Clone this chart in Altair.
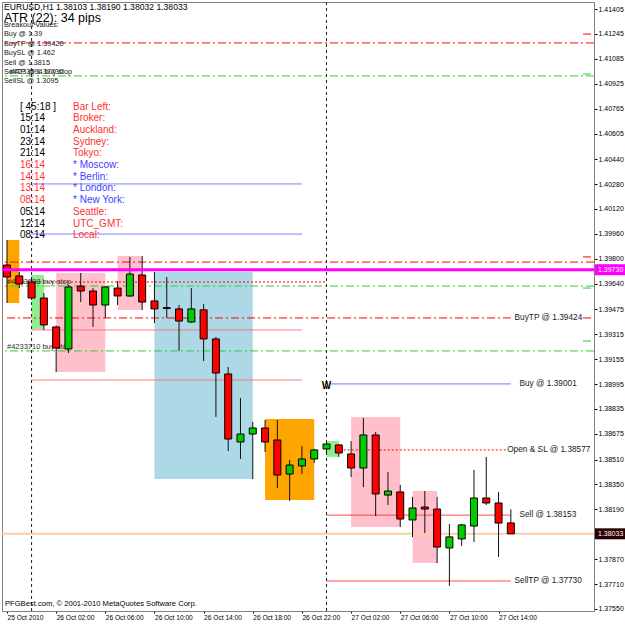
import altair as alt
import pandas as pd

# ---------------- data ----------------
# H1 bars, hours counted from 26 Oct 2010 00:00
bar_hour = [-2, -1, 0, 1, 2, 3, 4, 5, 6, 7, 8, 9, 10, 11, 12, 13, 14, 15, 16, 17, 18, 19,
            20, 21, 22, 23, 24, 25, 26, 27, 28, 29, 30, 31, 32, 33, 34, 35, 36, 37, 38, 39]
bar_open = [1.39760, 1.39690, 1.39651, 1.39548, 1.39362, 1.39221, 1.39625, 1.39593, 1.39503, 1.39612,
            1.39561, 1.39696, 1.39529, 1.39486, 1.39478, 1.39394, 1.39472, 1.39285, 1.39060, 1.38623,
            1.38674, 1.38713, 1.38636, 1.38417, 1.38469, 1.38514, 1.38578, 1.38604, 1.38546, 1.38456,
            1.38668, 1.38282, 1.38302, 1.38122, 1.38205, 1.38192, 1.37942, 1.38000, 1.38083, 1.38263,
            1.38231, 1.38103]
bar_high = [1.39921, 1.39715, 1.39683, 1.39580, 1.39370, 1.39632, 1.39709, 1.39612, 1.39625, 1.39657,
            1.39812, 1.39818, 1.39715, 1.39683, 1.39503, 1.39612, 1.39510, 1.39298, 1.39105, 1.38906,
            1.38752, 1.38764, 1.38764, 1.38507, 1.38597, 1.38578, 1.38623, 1.38610, 1.38629, 1.38777,
            1.38687, 1.38430, 1.38347, 1.38270, 1.38308, 1.38270, 1.38096, 1.38096, 1.38443, 1.38527,
            1.38302, 1.38190]
bar_low = [1.39516, 1.39612, 1.39535, 1.39343, 1.39073, 1.39195, 1.39522, 1.39362, 1.39420, 1.39503,
           1.39555, 1.39471, 1.39387, 1.39420, 1.39208, 1.39387, 1.39143, 1.38784, 1.38565, 1.38514,
           1.38385, 1.38559, 1.38327, 1.38244, 1.38417, 1.38488, 1.38546, 1.38527, 1.38398, 1.38333,
           1.38147, 1.38218, 1.38077, 1.38012, 1.38038, 1.37845, 1.37698, 1.37955, 1.37980, 1.38218,
           1.37884, 1.38032]
bar_close = [1.39683, 1.39638, 1.39548, 1.39375, 1.39227, 1.39619, 1.39593, 1.39503, 1.39619, 1.39561,
             1.39702, 1.39522, 1.39478, 1.39481, 1.39400, 1.39478, 1.39285, 1.39066, 1.38642, 1.38674,
             1.38713, 1.38623, 1.38411, 1.38475, 1.38514, 1.38572, 1.38610, 1.38552, 1.38456, 1.38668,
             1.38289, 1.38308, 1.38128, 1.38199, 1.38192, 1.37948, 1.38013, 1.38090, 1.38263, 1.38231,
             1.38102, 1.38033]

y_ticks = [1.41405, 1.41245, 1.41085, 1.40925, 1.40765, 1.40605, 1.40440, 1.40280, 1.40120, 1.39960,
           1.39800, 1.39640, 1.39475, 1.39315, 1.39155, 1.38995, 1.38835, 1.38675, 1.38510, 1.38350,
           1.38190, 1.37870, 1.37710, 1.37550]
x_tick_hours = [-2, 2, 6, 10, 14, 18, 22, 26, 30, 34, 38]
x_tick_text = ["25 Oct 2010", "26 Oct 02:00", "26 Oct 06:00", "26 Oct 10:00", "26 Oct 14:00",
               "26 Oct 18:00", "26 Oct 22:00", "27 Oct 02:00", "27 Oct 06:00", "27 Oct 10:00",
               "27 Oct 14:00"]

# session rectangles
box_from = [-2, 0, 2, 7, 10, 19, 24, 26, 31]
box_to = [-1, 1, 6, 9, 18, 23, 25, 30, 33]
box_high = [1.39921, 1.39696, 1.39709, 1.39818, 1.39715, 1.38771, 1.38629, 1.38784, 1.38308]
box_low = [1.39516, 1.39349, 1.39073, 1.39471, 1.38385, 1.38250, 1.38527, 1.38077, 1.37845]
box_color = ["#FFA500", "#90EE90", "#FFC0CB", "#FFC0CB", "#ADD8E6", "#FFA500", "#90EE90", "#FFC0CB", "#FFC0CB"]

# full-width dash-dot lines
hline_price = [1.41187, 1.40975, 1.39779, 1.39625, 1.39208]
hline_color = ["#FF0000", "#32CD32", "#FF0000", "#32CD32", "#32CD32"]

# partial lines
seg_price = [1.40281, 1.39959, 1.39343, 1.39021, 1.39651, 1.39420, 1.38996, 1.38572, 1.38153, 1.37730]
seg_from = [0, 0, 0, 0, -2, -2, 24.3, 25.4, 24, 24]
seg_to = [22, 22, 22, 22, 24, 39, 39, 38.6, 39, 39]
seg_color = ["#7070FF", "#7070FF", "#FF6A6A", "#FF6A6A", "#FF0000", "#FF0000", "#6A6AFF", "#FF0000",
             "#FF3030", "#FF3030"]
seg_style = ["solid", "solid", "solid", "solid", "dot", "dashdot", "solid", "dot", "solid", "solid"]

line_label_text = ["BuyTP @ 1.39424", "Buy @ 1.39001", "Open & SL @ 1.38577", "Sell @ 1.38153",
                   "SellTP @ 1.37730"]
line_label_price = [1.39420, 1.38996, 1.38572, 1.38153, 1.37730]
line_label_hour = [39.3, 39.7, 38.7, 39.7, 39.3]

# short price marks at the right edge
edge_mark_price = [1.41244, 1.40987, 1.39812, 1.39612, 1.39420, 1.39272]
edge_mark_color = ["#FF0000", "#32CD32", "#FF0000", "#32CD32", "#FF0000", "#32CD32"]

order_text = ["#4233688 buy stop", "#4233710 buy stop"]
order_price = [1.39651, 1.39233]

separator_hours = [0, 24]
current_level = 1.39730
bid_price = 1.38033
marker_hour = 24
marker_price = 1.38983

header_text = "EURUSD,H1  1.38103 1.38190 1.38032 1.38033"
atr_text = "ATR (22): 34 pips"
breakout_text = ["Breakout Values:", "Buy @ 1.39", "BuyTP @ 1.39420", "BuySL @ 1.462", "Sell @ 1.3815",
                 "SellTP @ 1.37730", "SellSL @ 1.3095"]
clock_time = ["[ 45:18 ]", "15:14", "01:14", "23:14", "21:14", "16:14", "14:14", "13:14", "08:14",
              "05:14", "12:14", "08:14"]
clock_time_color = ["#000000"] * 5 + ["#FF3030"] * 4 + ["#000000"] * 3
clock_city = ["Bar Left:", "Broker:", "Auckland:", "Sydney:", "Tokyo:", "* Moscow:", "* Berlin:",
              "* London:", "* New York:", "Seattle:", "UTC_GMT:", "Local:"]
clock_city_color = ["#FF3030"] * 5 + ["#4040FF"] * 4 + ["#FF3030"] * 3
footer_text = "PFGBest.com, \u00a9 2001-2010 MetaQuotes Software Corp."

# ---------------- styles ----------------
FONT = "Liberation Sans"
DASH = {"solid": [1, 0], "dot": [2, 2], "dashdot": [8, 3, 2, 3]}

xs = alt.Scale(domain=[-2, 45.36], nice=False, zero=False)
ys = alt.Scale(domain=[1.37537, 1.41450], nice=False, zero=False)
label_expr = "[" + ",".join("'%s'" % s for s in x_tick_text) + "][round((datum.value + 2) / 4)]"
xaxis = alt.Axis(orient="bottom", values=x_tick_hours, labelExpr=label_expr, labelAlign="left",
                 labelBaseline="top", labelFont=FONT, labelFontSize=6.6, labelColor="#000000",
                 tickSize=2, tickColor="#000000", labelPadding=1, grid=False, title=None,
                 labelFlush=False, labelOverlap=False, domainColor="#808080")
yaxis = alt.Axis(orient="right", values=y_ticks, format=".5f", labelFont=FONT, labelFontSize=7,
                 labelColor="#000000", tickSize=3, tickColor="#000000", labelPadding=1, grid=False,
                 title=None, labelFlush=False, labelOverlap=False, domainColor="#808080",
                 labelBaseline="middle")


def X(f):
    return alt.X(f, type="quantitative", scale=xs, axis=xaxis, title=None)


def Y(f):
    return alt.Y(f, type="quantitative", scale=ys, axis=yaxis, title=None)


one = pd.DataFrame({"a": [0]})

candles = pd.DataFrame({"t": bar_hour, "o": bar_open, "h": bar_high, "l": bar_low, "c": bar_close})
candles["col"] = ["#00CC00" if c > o else "#FF0000" for o, c in zip(bar_open, bar_close)]

boxes = pd.DataFrame({"t1": box_from, "t2": box_to, "hi": box_high, "lo": box_low, "col": box_color})

layers = []

layers.append(alt.Chart(boxes).mark_rect(clip=True).encode(
    x=X("t1"), x2="t2", y=Y("hi"), y2="lo", color=alt.Color("col:N", scale=None)))

for p, c in zip(hline_price, hline_color):
    layers.append(alt.Chart(pd.DataFrame({"p": [p]})).mark_rule(
        color=c, strokeWidth=1, strokeDash=DASH["dashdot"]).encode(y=Y("p")))

layers.append(alt.Chart(pd.DataFrame({"p": [bid_price]})).mark_rule(
    color="#F9CFA8", strokeWidth=2).encode(y=Y("p")))

for p, a, b, c, s in zip(seg_price, seg_from, seg_to, seg_color, seg_style):
    layers.append(alt.Chart(pd.DataFrame({"p": [p], "a": [a], "b": [b]})).mark_rule(
        color=c, strokeWidth=1, strokeDash=DASH[s], clip=True).encode(x=X("a"), x2="b", y=Y("p")))

layers.append(alt.Chart(pd.DataFrame({"p": edge_mark_price, "col": edge_mark_color})).mark_rule(
    strokeWidth=1).encode(x=alt.value(581), x2=alt.value(589), y=Y("p"),
                          color=alt.Color("col:N", scale=None)))

layers.append(alt.Chart(pd.DataFrame({"t": separator_hours})).mark_rule(
    color="#202020", strokeWidth=1, strokeDash=[3, 3]).encode(x=X("t")))

layers.append(alt.Chart(pd.DataFrame({"txt": order_text, "p": order_price})).mark_text(
    align="left", baseline="middle", font=FONT, fontSize=7.5, color="#303030").encode(
    x=alt.value(5), y=Y("p"), text="txt:N"))

layers.append(alt.Chart(candles).mark_rule(color="#101010", strokeWidth=1, clip=True).encode(
    x=X("t"), y=Y("l"), y2="h"))
layers.append(alt.Chart(candles).mark_bar(size=7, stroke="#000000", strokeWidth=1, clip=True).encode(
    x=X("t"), y=Y("o"), y2="c", color=alt.Color("col:N", scale=None)))

layers.append(alt.Chart(pd.DataFrame({"p": [current_level]})).mark_rule(
    color="#FF00FF", strokeWidth=3).encode(y=Y("p")))

layers.append(alt.Chart(pd.DataFrame({"t": [marker_hour], "p": [marker_price]})).mark_text(
    font=FONT, fontSize=10, fontWeight="bold", color="#000000", baseline="middle").encode(
    x=X("t"), y=Y("p"), text=alt.value("W")))

layers.append(alt.Chart(pd.DataFrame({"txt": line_label_text, "p": line_label_price,
                                      "t": line_label_hour})).mark_text(
    align="left", baseline="middle", font=FONT, fontSize=8.3, color="#202020").encode(
    x=X("t"), y=Y("p"), text="txt:N"))

# price-axis badges
for p, bg in [(current_level, "#FF00FF"), (bid_price, "#2A0000")]:
    d = pd.DataFrame({"p": [p], "txt": ["%.5f" % p]})
    layers.append(alt.Chart(d).mark_rule(color=bg, strokeWidth=11).encode(
        x=alt.value(593), x2=alt.value(623), y=Y("p")))
    layers.append(alt.Chart(d).mark_text(align="left", baseline="middle", font=FONT, fontSize=7,
                                         color="#FFFFFF").encode(x=alt.value(596), y=Y("p"), text="txt:N"))


def label(txt, x, y, size, color="#000000", weight="normal"):
    return alt.Chart(one).mark_text(align="left", baseline="middle", font=FONT, fontSize=size,
                                    color=color, fontWeight=weight).encode(
        x=alt.value(x), y=alt.value(y), text=alt.value(txt))


layers.append(label(header_text, 2, 5, 8.6))
layers.append(label(atr_text, 2, 16, 12.5))
for i, t in enumerate(breakout_text):
    layers.append(label(t, 2, 23 + i * 9.4, 7.3, "#202020"))
layers.append(label("#4233694 buy stop", 8, 23 + 5 * 9.4, 7.3, "#202020"))
for i in range(len(clock_time)):
    layers.append(label(clock_time[i], 18, 104.5 + i * 11.7, 10, clock_time_color[i]))
    layers.append(label(clock_city[i], 71, 104.5 + i * 11.7, 10, clock_city_color[i]))
layers.append(label(footer_text, 3, 602, 7.6))

chart = alt.layer(*layers).properties(
    width=592, height=609, autosize="none",
    padding={"left": 2, "top": 2, "right": 31, "bottom": 12},
    background="#FFFFFF",
).configure_view(stroke="#808080", strokeWidth=1)

chart.save("out.html", embed_options={"renderer": "svg", "actions": False})
